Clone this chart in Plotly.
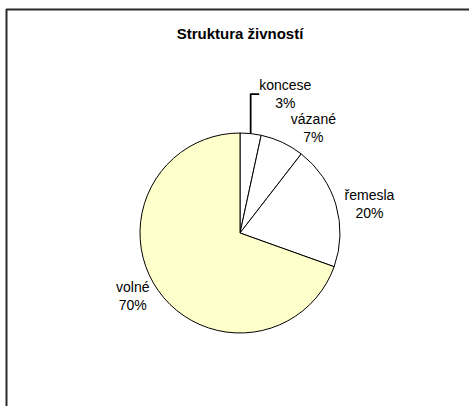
import plotly.graph_objects as go

categories = ["koncese", "vázané", "řemesla", "volné"]
values = [3.4, 7.1, 20.0, 69.6]
colors = ["#FFFFFF", "#FFFFFF", "#FFFFFF", "#FFFFCC"]

W, H = 469, 406
cx, cy, r = 240, 233, 100

fig = go.Figure(go.Pie(
    labels=categories,
    values=values,
    sort=False,
    direction="clockwise",
    rotation=0,
    marker=dict(colors=colors, line=dict(color="#000000", width=1)),
    texttemplate="%{label}<br>%{percent:.0%}",
    textposition="outside",
    textfont=dict(family="Liberation Sans, Arial, sans-serif", size=14, color="#000000"),
    showlegend=False,
    hoverinfo="label+percent",
    domain=dict(x=[(cx - r) / W, (cx + r) / W], y=[(H - cy - r) / H, (H - cy + r) / H]),
))

fig.update_layout(
    width=W, height=H,
    margin=dict(l=0, r=0, t=0, b=0),
    paper_bgcolor="#FFFFFF",
    title=dict(text="<b>Struktura živností</b>", x=240 / W, xanchor="center",
               y=1 - 34 / H, yanchor="middle",
               font=dict(family="Liberation Sans, Arial, sans-serif", size=15, color="#000000")),
    shapes=[
        dict(type="line", xref="paper", yref="paper",
             x0=6 / W, x1=1.02, y0=1 - 9.5 / H, y1=1 - 9.5 / H,
             line=dict(color="#2a2a2a", width=2)),
        dict(type="line", xref="paper", yref="paper",
             x0=6.5 / W, x1=6.5 / W, y0=-0.02, y1=1 - 9 / H,
             line=dict(color="#2a2a2a", width=2)),
    ],
)

fig.write_html("out.html", config={"displayModeBar": False},
               post_script="document.body.style.margin='0';document.body.style.overflow='hidden';")
